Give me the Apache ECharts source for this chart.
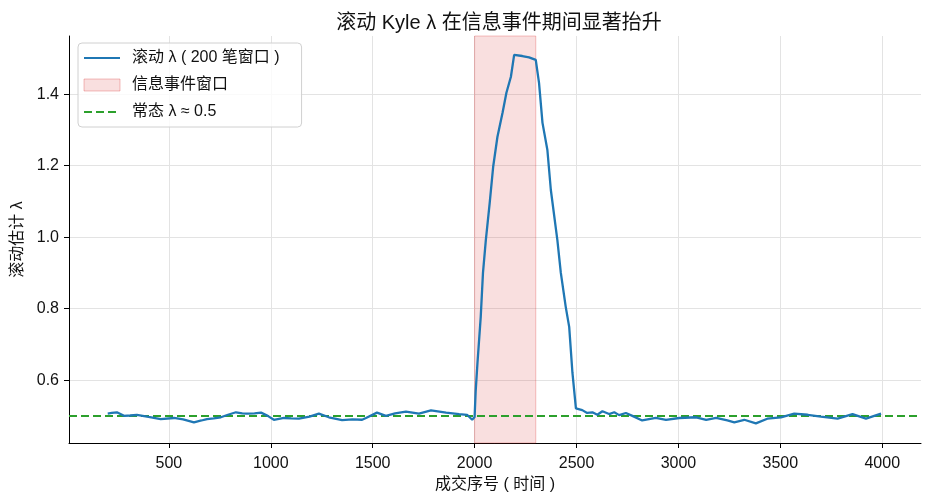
<!DOCTYPE html>
<html>
<head>
<meta charset="utf-8">
<script src="https://cdn.jsdelivr.net/npm/echarts@6/dist/echarts.min.js"></script>
<style>
  html, body { margin: 0; padding: 0; background: #fff; }
  #chart { width: 932px; height: 504px; }
</style>
</head>
<body>
<div id="chart"></div>
<script>
// 成交序号（横轴）
var trade_idx = [
  200, 220, 245, 280, 310, 343, 400, 460, 525, 570, 623, 660, 687, 720, 755, 790, 829, 860, 883, 920,
  952, 985, 1015, 1065, 1100, 1138, 1190, 1236, 1285, 1350, 1400, 1448, 1467, 1521, 1565, 1610, 1663,
  1727, 1786, 1860, 1924, 1963, 1988, 2000, 2005, 2014, 2030, 2041, 2055, 2074, 2091, 2112, 2137, 2156,
  2178, 2194, 2234, 2267, 2300, 2316, 2333, 2357, 2374, 2406, 2423, 2447, 2464, 2480, 2497, 2528, 2552,
  2578, 2602, 2627, 2660, 2685, 2709, 2742, 2774, 2822, 2889, 2939, 3004, 3087, 3136, 3185, 3240, 3274,
  3323, 3380, 3436, 3503, 3568, 3634, 3699, 3781, 3854, 3920, 3994
]
// 滚动 λ 估计值
var rolling_lambda = [
  0.506, 0.508, 0.510, 0.500, 0.501, 0.503, 0.497, 0.491, 0.494, 0.490, 0.482, 0.487, 0.491, 0.493, 0.496, 0.503, 0.510, 0.507, 0.506, 0.507,
  0.509, 0.500, 0.489, 0.494, 0.493, 0.492, 0.498, 0.506, 0.496, 0.488, 0.490, 0.489, 0.494, 0.509, 0.500, 0.507, 0.512,
  0.506, 0.515, 0.509, 0.505, 0.503, 0.489, 0.497, 0.567, 0.648, 0.777, 0.900, 0.992, 1.096, 1.197, 1.281, 1.348, 1.404,
  1.449, 1.510, 1.507, 1.503, 1.496, 1.432, 1.320, 1.244, 1.132, 0.992, 0.900, 0.805, 0.749, 0.620, 0.521, 0.516, 0.508,
  0.510, 0.503, 0.513, 0.505, 0.510, 0.502, 0.508, 0.500, 0.487, 0.494, 0.489, 0.494, 0.496, 0.489, 0.494, 0.487, 0.482,
  0.489, 0.479, 0.492, 0.496, 0.506, 0.503, 0.498, 0.492, 0.505, 0.492, 0.506
]
var event_window = [2000, 2300]  // 信息事件窗口
var normal_lambda = 0.5           // 常态 λ
var x_ticks = [500, 1000, 1500, 2000, 2500, 3000, 3500, 4000]
var y_ticks = [0.6, 0.8, 1.0, 1.2, 1.4]
var x_range = [10, 4190]
var y_range = [0.424, 1.563]

var FONT = "'Liberation Sans', 'Noto Sans CJK SC', sans-serif"
var line_data = trade_idx.map(function (x, i) { return [x, rolling_lambda[i]] })

var myChart = echarts.init(document.getElementById('chart'), null, { renderer: 'canvas' })
myChart.setOption({
  animation: false,
  textStyle: { fontFamily: FONT },
  title: {
    text: '滚动 Kyle λ 在信息事件期间显著抬升',
    left: 494, top: 8, textAlign: 'center',
    textStyle: { fontSize: 20, fontWeight: 'normal', color: '#111', fontFamily: FONT }
  },
  grid: { left: 69, right: 11, top: 36, bottom: 61 },
  legend: {
    orient: 'vertical', left: 78, top: 43,
    padding: [7, 22, 7, 5], itemGap: 11,
    itemWidth: 36, itemHeight: 12,
    backgroundColor: 'rgba(255,255,255,0.8)',
    borderColor: '#d0d0d0', borderWidth: 1, borderRadius: 4,
    textStyle: { fontSize: 16, color: '#111', fontFamily: FONT, padding: [0, 0, 0, 7] },
    data: [
      { name: '滚动 λ ( 200 笔窗口 )', itemStyle: { opacity: 0 } },
      { name: '信息事件窗口', icon: 'rect', itemStyle: { color: 'rgba(214,39,40,0.15)', borderColor: 'rgba(214,39,40,0.3)', borderWidth: 1 } },
      { name: '常态 λ ≈ 0.5', itemStyle: { opacity: 0 } }
    ]
  },
  xAxis: {
    type: 'value', min: x_range[0], max: x_range[1],
    name: '成交序号 ( 时间 )', nameLocation: 'middle', nameGap: 34,
    nameTextStyle: { fontSize: 16, color: '#111' },
    axisLine: { show: true, lineStyle: { color: '#000', width: 1 } },
    axisTick: { show: true, length: 5, inside: false, customValues: x_ticks, lineStyle: { color: '#000' } },
    axisLabel: {
      customValues: x_ticks, fontSize: 16, color: '#111', margin: 13,
      formatter: function (v) { return String(v) }
    },
    splitLine: { show: true, lineStyle: { color: '#e3e3e3', width: 1 } }
  },
  yAxis: {
    type: 'value', min: y_range[0], max: y_range[1],
    name: '滚动估计 λ', nameLocation: 'middle', nameGap: 36,
    nameTextStyle: { fontSize: 16, color: '#111' },
    axisLine: { show: true, lineStyle: { color: '#000', width: 1 } },
    axisTick: { show: true, length: 5, inside: false, customValues: y_ticks, lineStyle: { color: '#000' } },
    axisLabel: {
      customValues: y_ticks, fontSize: 16, color: '#111', margin: 10,
      formatter: function (v) { return v.toFixed(1) }
    },
    splitLine: { show: true, lineStyle: { color: '#e3e3e3', width: 1 } }
  },
  series: [
    {
      name: '信息事件窗口',
      type: 'line', data: [], symbol: 'none',
      itemStyle: { color: 'rgba(214,39,40,0.15)' },
      markArea: {
        silent: true,
        itemStyle: { color: 'rgba(214,39,40,0.15)', borderColor: 'rgba(214,39,40,0.28)', borderWidth: 1 },
        data: [[{ xAxis: event_window[0] }, { xAxis: event_window[1] }]]
      }
    },
    {
      name: '常态 λ ≈ 0.5',
      type: 'line', data: [], symbol: 'none',
      itemStyle: { color: '#2ca02c' },
      lineStyle: { color: '#2ca02c', type: [8, 4], width: 2 },
      markLine: {
        silent: true, symbol: 'none', label: { show: false },
        lineStyle: { color: '#2ca02c', type: [8, 4], width: 2 },
        data: [{ yAxis: normal_lambda }]
      }
    },
    {
      name: '滚动 λ ( 200 笔窗口 )',
      type: 'line', data: line_data, symbol: 'none', z: 5,
      itemStyle: { color: '#1f77b4' },
      lineStyle: { color: '#1f77b4', width: 2.3 }
    }
  ]
})
</script>
</body>
</html>
